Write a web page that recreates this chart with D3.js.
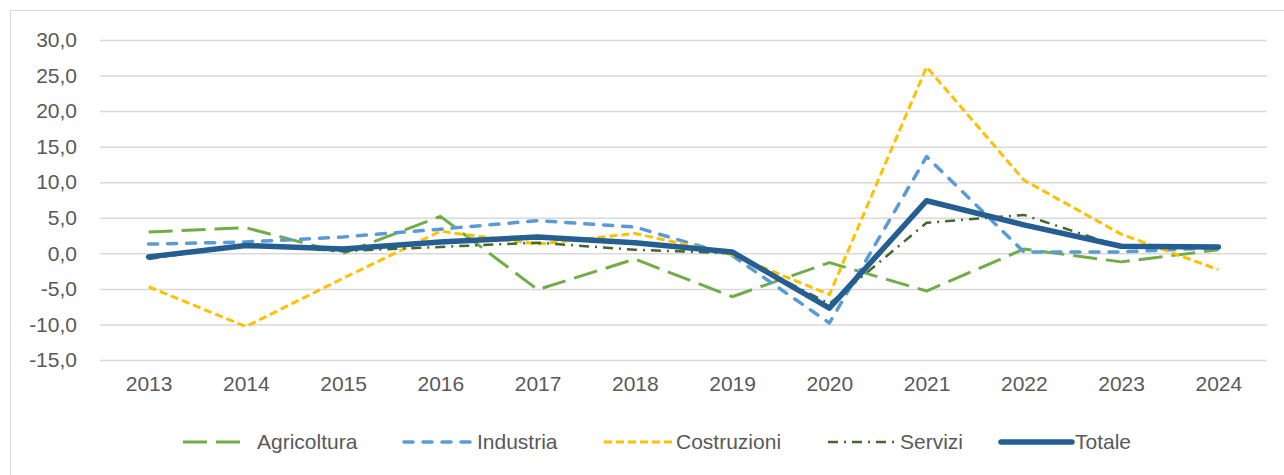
<!DOCTYPE html>
<html lang="it">
<head>
<meta charset="UTF-8">
<title>Variazioni per settore</title>
<script src="https://d3js.org/d3.v7.min.js"></script>
<style>
    body { margin: 0; background: #fff; font-family: "Liberation Sans", Arial, sans-serif; }
    .tick text { fill: #595959; font-size: 21px; }
    .legend text { fill: #595959; font-size: 21px; }
</style>
</head>
<body>
<div id="chart"></div>
<script>
// anni
const years = ["2013","2014","2015","2016","2017","2018","2019","2020","2021","2022","2023","2024"];

// valori
const agricoltura = [3.0, 3.6, 0.0, 5.2, -5.1, -0.8, -6.1, -1.3, -5.3, 0.6, -1.2, 0.5];
const industria   = [1.3, 1.6, 2.3, 3.4, 4.6, 3.7, -0.3, -9.8, 13.6, 0.2, 0.2, 0.8];
const costruzioni = [-4.7, -10.3, -3.5, 3.1, 1.3, 2.8, -0.2, -5.8, 26.2, 10.3, 2.7, -2.3];
const servizi     = [-0.8, 1.2, 0.3, 0.9, 1.5, 0.5, 0.0, -7.1, 4.3, 5.4, 0.9, 0.8];
const totale      = [-0.5, 1.1, 0.6, 1.6, 2.3, 1.5, 0.2, -7.7, 7.4, 4.0, 1.0, 0.9];

const yTicks = [-15, -10, -5, 0, 5, 10, 15, 20, 25, 30];

const series = [
    { name: "Agricoltura", values: agricoltura, color: "#70AD47", width: 3,   dash: "24,9",      cap: "butt" },
    { name: "Industria",   values: industria,   color: "#5B9BD5", width: 3.5, dash: "9,10",      cap: "round" },
    { name: "Costruzioni", values: costruzioni, color: "#FFC000", width: 3,   dash: "8,4",       cap: "butt" },
    { name: "Servizi",     values: servizi,     color: "#43682B", width: 2.5, dash: "10,6,2,6",  cap: "butt" },
    { name: "Totale",      values: totale,      color: "#255E91", width: 5.5, dash: null,        cap: "round" }
];

const width = 1284, height = 475;
const plot = { left: 100, right: 1267, top: 40, bottom: 360 };

const svg = d3.select("#chart").append("svg")
    .attr("width", width)
    .attr("height", height);

// cornice
svg.append("rect")
    .attr("x", 10.5).attr("y", 10.5)
    .attr("width", 1290).attr("height", 480)
    .attr("fill", "none")
    .attr("stroke", "#D9D9D9");

const x = d3.scalePoint().domain(years).range([plot.left, plot.right]).padding(0.5);
const y = d3.scaleLinear().domain([-15, 30]).range([plot.bottom, plot.top]);

const fmt = d => d3.format(".1f")(d).replace(".", ",").replace("−", "-");

// griglia + etichette asse y
const yAxis = svg.append("g")
    .attr("transform", `translate(${plot.left},0)`)
    .call(d3.axisLeft(y).tickValues(yTicks).tickFormat(fmt)
        .tickSize(-(plot.right - plot.left)).tickPadding(23));
yAxis.select(".domain").remove();
yAxis.selectAll(".tick line").attr("stroke", "#D9D9D9").attr("stroke-width", 1.5);

// asse x
const xAxis = svg.append("g")
    .attr("transform", `translate(0,${plot.bottom})`)
    .call(d3.axisBottom(x).tickSize(0).tickPadding(16));
xAxis.select(".domain").remove();
svg.selectAll(".tick text").attr("font-family", "Liberation Sans, Arial, sans-serif");

const line = d3.line()
    .x((d, i) => x(years[i]))
    .y(d => y(d));

svg.append("g").selectAll("path")
    .data(series)
    .join("path")
    .attr("d", d => line(d.values))
    .attr("fill", "none")
    .attr("stroke", d => d.color)
    .attr("stroke-width", d => d.width)
    .attr("stroke-dasharray", d => d.dash)
    .attr("stroke-linecap", d => d.cap)
    .attr("stroke-linejoin", "round");

// legenda
const legendPos = [
    { x1: 183, x2: 245, tx: 257 },
    { x1: 404, x2: 474, tx: 477 },
    { x1: 604, x2: 672, tx: 676 },
    { x1: 828, x2: 897, tx: 900 },
    { x1: 1001, x2: 1072, tx: 1075 }
];
const legendY = 442;
const legend = svg.append("g").attr("class", "legend");
series.forEach((s, i) => {
    const p = legendPos[i];
    legend.append("line")
        .attr("x1", p.x1).attr("x2", p.x2)
        .attr("y1", legendY).attr("y2", legendY)
        .attr("stroke", s.color)
        .attr("stroke-width", s.width)
        .attr("stroke-dasharray", s.dash)
        .attr("stroke-linecap", s.cap);
    legend.append("text")
        .attr("x", p.tx).attr("y", legendY)
        .attr("dy", "0.35em")
        .text(s.name);
});
</script>
</body>
</html>
